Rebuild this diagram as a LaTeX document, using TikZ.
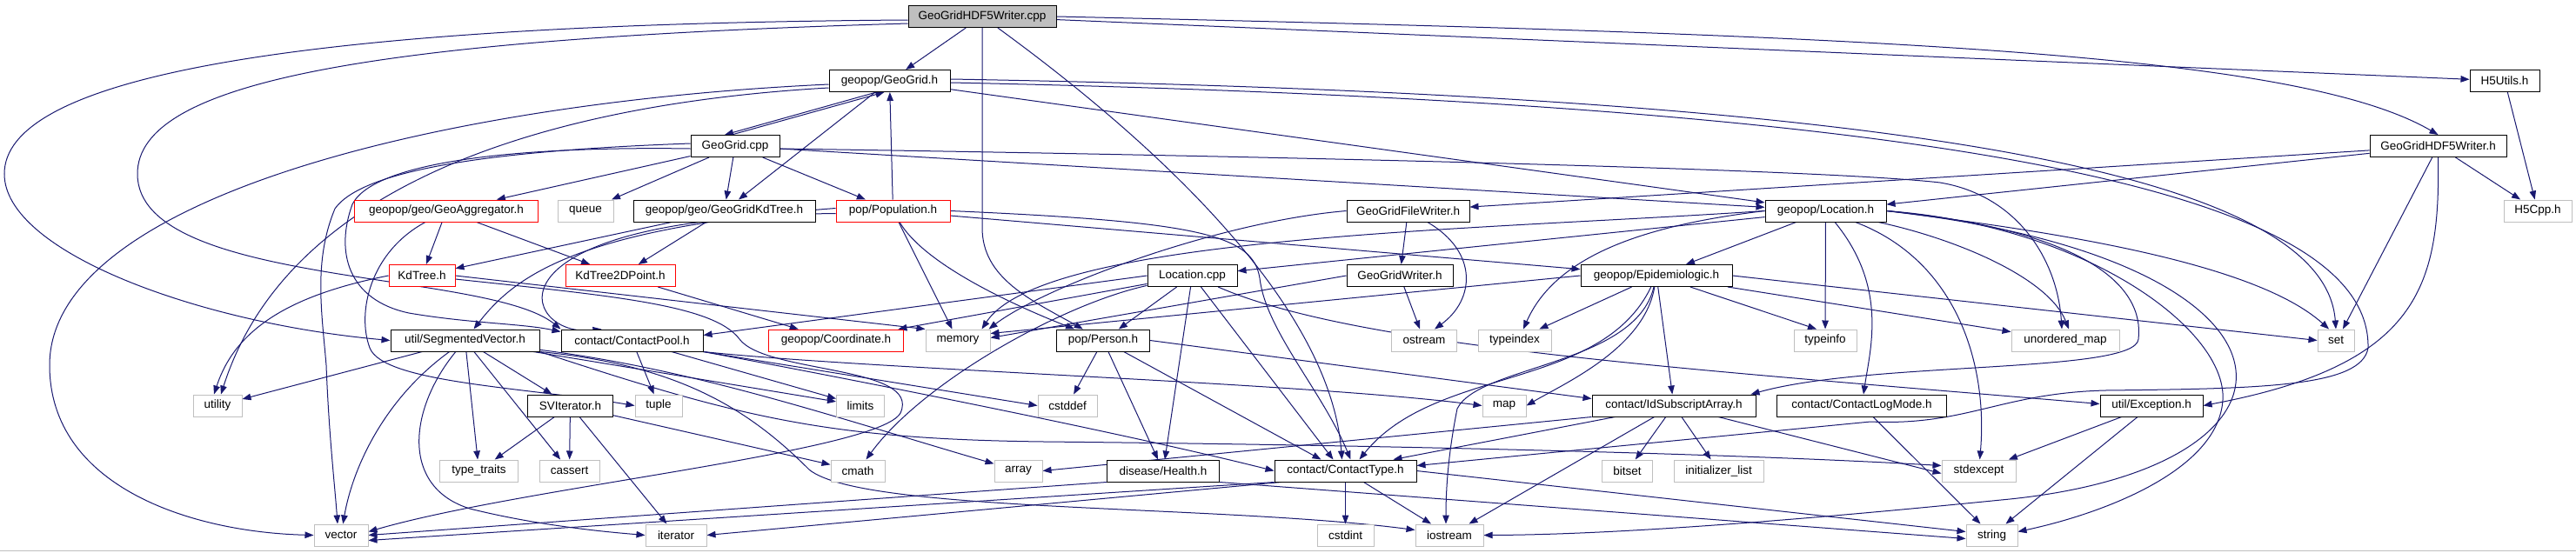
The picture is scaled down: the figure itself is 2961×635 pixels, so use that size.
\documentclass[tikz,border=0pt]{standalone}
\usepackage{fontspec}
\newfontfamily\nf{Liberation Sans}
\usetikzlibrary{arrows.meta}
\definecolor{edgec}{HTML}{191970}
\definecolor{sysg}{HTML}{BFBFBF}
\pgfdeclarelayer{bg}
\pgfsetlayers{bg,main}
\begin{document}
\begin{tikzpicture}[x=1pt,y=-1pt,
 nd/.style={draw=black, line width=1pt, fill=white, minimum height=25pt, inner sep=0pt, font=\nf\fontsize{13.5}{16}\selectfont},
 sy/.style={nd, draw=sysg},
 rd/.style={nd, draw=red},
 rt/.style={nd, fill=sysg},
 e/.style={draw=edgec, line width=1pt, -{Triangle[length=10pt,width=7.5pt]}}]
\useasboundingbox (0,0) rectangle (2961,635);
% nodes
\node[rt, minimum width=170pt] (cpp) at (1129,19) {GeoGridHDF5Writer.cpp};
\node[nd, minimum width=139pt] (gg) at (1022.5,93) {geopop/GeoGrid.h};
\node[nd, minimum width=80pt] (h5u) at (2879,93) {H5Utils.h};
\node[nd, minimum width=102pt] (ggc) at (845,168) {GeoGrid.cpp};
\node[nd, minimum width=157pt] (hw) at (2802.5,168) {GeoGridHDF5Writer.h};
\node[rd, minimum width=211pt] (agg) at (513,242.5) {geopop/geo/GeoAggregator.h};
\node[sy, minimum width=64pt] (queue) at (673,242.5) {queue};
\node[nd, minimum width=209pt] (kdt) at (832.5,242.5) {geopop/geo/GeoGridKdTree.h};
\node[rd, minimum width=131pt] (pop) at (1026.5,242.5) {pop/Population.h};
\node[nd, minimum width=141pt] (fw) at (1618.5,242.5) {GeoGridFileWriter.h};
\node[nd, minimum width=139pt] (loc) at (2098.5,242.5) {geopop/Location.h};
\node[sy, minimum width=78pt] (h5) at (2917,242.5) {H5Cpp.h};
\node[rd, minimum width=76pt] (kd) at (485,317) {KdTree.h};
\node[rd, minimum width=126pt] (kdp) at (713,317) {KdTree2DPoint.h};
\node[nd, minimum width=103pt] (lcpp) at (1370.5,317) {Location.cpp};
\node[nd, minimum width=122pt] (gw) at (1609,317) {GeoGridWriter.h};
\node[nd, minimum width=174pt] (epi) at (1904,317) {geopop/Epidemiologic.h};
\node[nd, minimum width=171pt] (sv) at (534.5,391.5) {util/SegmentedVector.h};
\node[nd, minimum width=163pt] (cp) at (726.5,391.5) {contact/ContactPool.h};
\node[rd, minimum width=155pt] (coord) at (961,391.5) {geopop/Coordinate.h};
\node[sy, minimum width=74pt] (memory) at (1101,391.5) {memory};
\node[nd, minimum width=107pt] (person) at (1268,391.5) {pop/Person.h};
\node[sy, minimum width=75pt] (ostream) at (1637,391.5) {ostream};
\node[sy, minimum width=84pt] (typeindex) at (1741,391.5) {typeindex};
\node[sy, minimum width=72pt] (typeinfo) at (2098,391.5) {typeinfo};
\node[sy, minimum width=124pt] (umap) at (2374,391.5) {unordered\_map};
\node[sy, minimum width=42pt] (set) at (2685,391.5) {set};
\node[sy, minimum width=56pt] (utility) at (250,466.5) {utility};
\node[nd, minimum width=98pt] (svi) at (655.5,466.5) {SVIterator.h};
\node[sy, minimum width=54pt] (tuple) at (757,466.5) {tuple};
\node[sy, minimum width=55pt] (limits) at (989,466.5) {limits};
\node[sy, minimum width=68pt] (cstddef) at (1227,466.5) {cstddef};
\node[sy, minimum width=50pt] (map) at (1729,466.5) {map};
\node[nd, minimum width=188pt] (ida) at (1924,466.5) {contact/IdSubscriptArray.h};
\node[nd, minimum width=195pt] (clm) at (2140,466.5) {contact/ContactLogMode.h};
\node[nd, minimum width=118pt] (exc) at (2473,466.5) {util/Exception.h};
\node[sy, minimum width=90pt] (tt) at (550.5,541.5) {type\_traits};
\node[sy, minimum width=69pt] (cassert) at (654.5,541.5) {cassert};
\node[sy, minimum width=62pt] (cmath) at (986,541.5) {cmath};
\node[sy, minimum width=55pt] (array) at (1170.5,541.5) {array};
\node[nd, minimum width=129pt] (health) at (1337,541.5) {disease/Health.h};
\node[nd, minimum width=163pt] (ct) at (1546.5,541.5) {contact/ContactType.h};
\node[sy, minimum width=58pt] (bitset) at (1870.5,541.5) {bitset};
\node[sy, minimum width=103pt] (initlist) at (1975.5,541.5) {initializer\_list};
\node[sy, minimum width=85pt] (stdexcept) at (2274.5,541.5) {stdexcept};
\node[sy, minimum width=62pt] (vector) at (392,615.5) {vector};
\node[sy, minimum width=70pt] (iterator) at (777,615.5) {iterator};
\node[sy, minimum width=65pt] (cstdint) at (1546.5,615.5) {cstdint};
\node[sy, minimum width=78pt] (iostream) at (1666,615.5) {iostream};
\node[sy, minimum width=59pt] (string) at (2289.5,615.5) {string};

\begin{pgfonlayer}{bg}
\fill[white] (0,0) rectangle (2961,635);
\draw[sysg, line width=1.5pt] (0,633.5) -- (2961,633.5);
% GeoGridHDF5Writer.cpp
\draw[e] (cpp) -- (gg);
\draw[e] (cpp) -- (h5u);
\draw[e] (cpp.east) .. controls (2150,40) and (2640,60) .. (hw.north);
\draw[e] ([yshift=-4pt]cpp.west) .. controls (300,28) and (5,95) .. (5,200) .. controls (5,290) and (230,372) .. (sv.west);
\draw[e] ([yshift=-8pt]cpp.west) .. controls (420,45) and (158,95) .. (158,200) .. controls (158,330) and (560,310) .. (cp.north west);
\draw[e] (cpp.south) -- (1129,262) .. controls (1129,320) and (1185,345) .. (person);
\draw[e] (cpp) .. controls (1350,180) and (1530,360) .. ([xshift=-4pt]ct.north);
% GeoGrid.h
\draw[e] ([xshift=-15pt]gg.south) -- ([xshift=-12pt]ggc.north);
\draw[e] ([xshift=-4pt]ggc.north) -- ([xshift=-6pt]gg.south);
\draw[e] (gg) -- (kdt);
\draw[e] ([yshift=-4pt]gg.west) .. controls (500,118) and (57,230) .. (57,420) .. controls (57,560) and (220,612) .. (vector.west);
\draw[e] ([yshift=-8pt]gg.west) .. controls (620,120) and (330,215) .. ([xshift=4pt]utility.north);
\draw[e] (gg) -- (loc);
\draw[e] ([yshift=2pt]gg.east) .. controls (2200,110) and (2672,200) .. (set.north);
\draw[e] ([yshift=-2pt]gg.east) .. controls (2300,120) and (2725,230) .. (2722,400) .. controls (2715,445) and (2600,447) .. (2420,449) .. controls (2300,452) and (2260,490) .. (2150,485) -- ([yshift=6pt]ct.east);
% GeoGrid.cpp
\draw[e] (ggc) -- (agg);
\draw[e] (ggc) -- (queue);
\draw[e] (ggc) -- (kdt);
\draw[e] (ggc) -- (pop);
\draw[e] (ggc) -- (loc);
\draw[e] ([yshift=-3pt]ggc.east) .. controls (1500,180) and (2100,195) .. (2230,210) .. controls (2320,225) and (2365,300) .. ([xshift=-4pt]umap.north);
\draw[e] ([yshift=-3pt]ggc.west) .. controls (600,168) and (430,185) .. (405,235) .. controls (385,290) and (400,345) .. (470,360) .. controls (540,372) and (600,372) .. ([yshift=-3pt]cp.north west);
\draw[e] ([yshift=3pt]ggc.west) .. controls (600,172) and (420,190) .. (385,240) .. controls (360,300) and (370,360) .. (375,420) .. controls (378,500) and (385,560) .. ([xshift=-4pt]vector.north);
% Population.h
\draw[e] (pop) -- (gg);
\draw[e] (pop) -- (memory);
\draw[e] (pop) .. controls (1060,300) and (1150,345) .. (person);
\draw[e] ([yshift=3pt]pop.west) .. controls (660,262) and (590,320) .. ([xshift=10pt]sv.north);
\draw[e] ([yshift=-3pt]pop.west) .. controls (540,250) and (600,390) .. ([xshift=-35pt]cp.north);
\draw[e] (pop) -- (epi);
\draw[e] (pop.east) .. controls (1380,255) and (1440,270) .. (1448,320) .. controls (1455,380) and (1520,450) .. ([xshift=6pt]ct.north);
% GeoAggregator.h / GeoGridKdTree.h
\draw[e] (agg) -- (kd);
\draw[e] (agg) -- (kdp);
\draw[e] (agg) .. controls (425,290) and (410,360) .. (425,400) .. controls (440,440) and (600,445) .. (tuple.west);
\draw[e] (kdt) -- (kd);
\draw[e] (kdt) -- (kdp);
% KdTree.h
\draw[e] (kd.west) .. controls (330,340) and (270,380) .. ([xshift=-4pt]utility.north);
\draw[e] (kd.east) -- (memory.north west);
\draw[e] ([yshift=-4pt]kd.east) .. controls (700,340) and (820,350) .. (850,390) .. controls (880,430) and (1060,420) .. (1035,475) .. controls (1010,520) and (600,560) .. ([yshift=4pt]vector.east);
\draw[e] (kdp) -- (coord);
% Location.cpp
\draw[e] (lcpp) -- (person);
\draw[e] (lcpp) -- (health);
\draw[e] (lcpp) -- ([xshift=-14pt]ct.north);
\draw[e] (lcpp) .. controls (1220,350) and (1060,440) .. (cmath);
\draw[e] (lcpp) -- (coord);
\draw[e] (lcpp.west) -- ([yshift=6pt]cp.east);
\draw[e] (lcpp) .. controls (1560,400) and (1950,425) .. ([yshift=2pt]exc.west);
% writers
\draw[e] (fw) -- (gw);
\draw[e] (fw) .. controls (1700,290) and (1695,345) .. ([xshift=12pt]ostream.north);
\draw[e] (fw.west) .. controls (1400,255) and (1200,330) .. ([xshift=-2pt]memory.north east);
\draw[e] (gw) -- (ostream);
\draw[e] (gw.west) -- ([yshift=3pt]memory.east);
% Location.h
\draw[e] (loc) -- (lcpp);
\draw[e] (loc) -- (epi);
\draw[e] (loc.west) .. controls (1700,265) and (1200,270) .. ([xshift=-10pt]memory.north east);
\draw[e] (loc.west) .. controls (1900,258) and (1790,290) .. ([xshift=10pt]typeindex.north);
\draw[e] (loc) -- (typeinfo);
\draw[e] (loc) .. controls (2250,275) and (2355,320) .. ([xshift=4pt]umap.north);
\draw[e] (loc.east) .. controls (2350,265) and (2590,300) .. ([xshift=-8pt]set.north);
\draw[e] (loc.east) .. controls (2400,265) and (2465,330) .. (2458,390) .. controls (2455,430) and (2150,415) .. ([xshift=-6pt]ida.north east);
\draw[e] (loc) .. controls (2170,330) and (2150,400) .. (clm);
\draw[e] (loc) .. controls (2250,300) and (2285,420) .. (stdexcept);
\draw[e] (loc.east) .. controls (2400,260) and (2560,380) .. (2555,460) .. controls (2550,540) and (2420,590) .. ([yshift=4pt]string.east);
\draw[e] (loc.east) .. controls (2680,300) and (2680,540) .. (2300,575) .. controls (2050,600) and (1850,615) .. (iostream.east);
% Epidemiologic.h
\draw[e] (epi.west) -- ([yshift=8pt]memory.east);
\draw[e] (epi) -- (typeindex);
\draw[e] (epi) -- ([xshift=-10pt]typeinfo.north);
\draw[e] (epi) -- (umap);
\draw[e] (epi.east) -- (set.west);
\draw[e] (epi) .. controls (1890,400) and (1800,440) .. (map.east);
\draw[e] (epi) -- (ida);
\draw[e] (epi) .. controls (1840,450) and (1650,420) .. ([xshift=16pt]ct.north);
\draw[e] (epi) .. controls (1880,420) and (1700,420) .. (1675,470) .. controls (1665,520) and (1662,560) .. ([xshift=-4pt]iostream.north);
% SegmentedVector.h
\draw[e] (sv) -- (utility);
\draw[e] (sv) .. controls (440,460) and (405,540) .. (vector);
\draw[e] (sv) .. controls (470,470) and (460,560) .. (540,585) .. controls (620,605) and (700,612) .. (iterator.west);
\draw[e] (sv) -- (tt);
\draw[e] (sv) -- (cassert);
\draw[e] (sv) -- (svi);
\draw[e] (sv) -- (limits);
\draw[e] (sv) .. controls (800,425) and (960,480) .. (array);
\draw[e] (sv.south east) .. controls (850,480) and (950,505) .. (1200,508) .. controls (1600,512) and (2000,522) .. ([yshift=6pt]stdexcept.west);
\draw[e] (sv.south east) .. controls (780,420) and (860,470) .. (930,540) .. controls (990,590) and (1400,580) .. ([yshift=6pt]iostream.west);
% ContactPool.h
\draw[e] (cp) -- (tuple);
\draw[e] (cp) -- (limits);
\draw[e] (cp.south east) -- (cstddef.west);
\draw[e] (cp.south east) .. controls (1000,425) and (1500,440) .. (map.west);
\draw[e] (cp.south east) .. controls (1000,440) and (1300,500) .. (ct.west);
% Person.h
\draw[e] (person) -- (cstddef);
\draw[e] (person) -- (health);
\draw[e] (person) -- ([xshift=-28pt]ct.north);
\draw[e] (person.east) -- ([yshift=8pt]ida.west);
% SVIterator.h
\draw[e] (svi) -- (tt);
\draw[e] (svi) -- (cassert);
\draw[e] (svi) -- (iterator);
\draw[e] (svi) -- (cmath);
% IdSubscriptArray.h
\draw[e] (ida.south west) -- (array.east);
\draw[e] (ida) -- (bitset);
\draw[e] (ida) -- (initlist);
\draw[e] (ida) -- ([yshift=-3pt]stdexcept.west);
\draw[e] (ida) -- (iostream);
\draw[e] (ida) -- ([xshift=55pt]ct.north);
% others
\draw[e] (clm) -- (string);
\draw[e] (exc) -- (stdexcept);
\draw[e] (exc) -- (string);
\draw[e] (health.south west) -- (vector.east);
\draw[e] (health.south east) -- ([yshift=-4pt]string.west);
\draw[e] (ct) -- (cstdint);
\draw[e] (ct) -- (iostream);
\draw[e] (ct.east) -- ([yshift=4pt]string.west);
\draw[e] (ct.south west) -- ([yshift=-6pt]vector.east);
\draw[e] ([xshift=8pt]ct.south west) -- (iterator.east);
% HDF5 writer header
\draw[e] (h5u) -- (h5);
\draw[e] (hw) -- (h5);
\draw[e] (hw) -- (fw);
\draw[e] (hw) -- (loc);
\draw[e] (hw) -- ([xshift=8pt]set.north);
\draw[e] (hw.south) .. controls (2805,330) and (2780,420) .. (exc.east);
\end{pgfonlayer}
\end{tikzpicture}
\end{document}
